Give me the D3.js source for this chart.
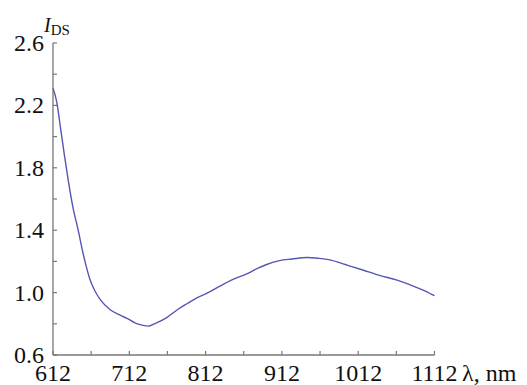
<!DOCTYPE html>
<html>
<head>
<meta charset="utf-8">
<script src="https://cdn.jsdelivr.net/npm/d3@7"></script>
<style>
  body { margin: 0; background: #fff; }
</style>
</head>
<body>
<svg id="chart" width="527" height="385"></svg>
<script>
// spectrum
var wavelength = [612, 617, 622, 627, 632, 638, 645, 651, 656, 660, 667, 674, 687, 700, 709, 720, 730, 737, 745, 761, 775, 788, 800, 814, 830, 848, 866, 880, 892, 909, 925, 945, 960, 975, 995, 1018, 1040, 1063, 1085, 1100, 1112];
var intensity  = [2.31, 2.22, 2.05, 1.88, 1.72, 1.55, 1.40, 1.26, 1.16, 1.09, 1.01, 0.955, 0.89, 0.855, 0.835, 0.805, 0.79, 0.785, 0.80, 0.84, 0.89, 0.93, 0.965, 0.997, 1.04, 1.085, 1.12, 1.155, 1.18, 1.205, 1.215, 1.225, 1.22, 1.21, 1.18, 1.145, 1.11, 1.08, 1.04, 1.01, 0.98];

var xTicks = [612, 712, 812, 912, 1012, 1112];
var xMinor = [662, 762, 862, 962, 1062];
var yTicks = [0.6, 1.0, 1.4, 1.8, 2.2, 2.6];
var yMinor = [0.8, 1.2, 1.6, 2.0, 2.4];

var serif = "Liberation Serif";

var svg = d3.select("#chart");

var x = d3.scaleLinear().domain([612, 1112]).range([53, 434.5]);
var y = d3.scaleLinear().domain([0.6, 2.6]).range([355, 43]);

var axisColor = "#777";

// y axis line + inward ticks
svg.append("line")
  .attr("x1", x(612)).attr("x2", x(612))
  .attr("y1", y(2.6)).attr("y2", y(0.6))
  .attr("stroke", axisColor).attr("stroke-width", 1.3);

svg.selectAll(".ytick")
  .data(yTicks.concat(yMinor)).enter()
  .append("line")
  .attr("class", "ytick")
  .attr("x1", x(612)).attr("x2", x(612) + 4)
  .attr("y1", d => y(d)).attr("y2", d => y(d))
  .attr("stroke", axisColor).attr("stroke-width", 1.2);

svg.selectAll(".ylab")
  .data(yTicks).enter()
  .append("text")
  .attr("class", "ylab")
  .attr("x", 44)
  .attr("y", d => y(d))
  .attr("dy", "0.33em")
  .attr("text-anchor", "end")
  .attr("font-family", serif)
  .attr("font-size", 24)
  .attr("fill", "#111")
  .text(d => d.toFixed(1));

// x axis line + inward ticks
svg.append("line")
  .attr("x1", x(612)).attr("x2", x(1112))
  .attr("y1", y(0.6)).attr("y2", y(0.6))
  .attr("stroke", axisColor).attr("stroke-width", 1.3);

svg.selectAll(".xtick")
  .data(xTicks.concat(xMinor)).enter()
  .append("line")
  .attr("class", "xtick")
  .attr("x1", d => x(d)).attr("x2", d => x(d))
  .attr("y1", y(0.6)).attr("y2", y(0.6) - 4)
  .attr("stroke", axisColor).attr("stroke-width", 1.2);

svg.selectAll(".xlab")
  .data(xTicks).enter()
  .append("text")
  .attr("class", "xlab")
  .attr("x", d => x(d))
  .attr("y", 381)
  .attr("text-anchor", "middle")
  .attr("font-family", serif)
  .attr("font-size", 24)
  .attr("fill", "#111")
  .text(d => d);

svg.append("text")
  .attr("x", 462).attr("y", 381)
  .attr("font-family", serif)
  .attr("font-size", 24)
  .attr("fill", "#111")
  .text("λ, nm");

// axis title I_DS
var yt = svg.append("text").attr("x", 44).attr("y", 32)
  .attr("font-family", serif).attr("fill", "#111");
yt.append("tspan").attr("font-size", 20).attr("font-style", "italic").text("I");
yt.append("tspan").attr("dy", 3).attr("font-size", 15).text("DS");

// spectrum
var line = d3.line()
  .x((d, i) => x(wavelength[i]))
  .y(d => y(d))
  .curve(d3.curveMonotoneX);

svg.append("path")
  .datum(intensity)
  .attr("fill", "none")
  .attr("stroke", "#5656b4")
  .attr("stroke-width", 1.4)
  .attr("d", line);
</script>
</body>
</html>
